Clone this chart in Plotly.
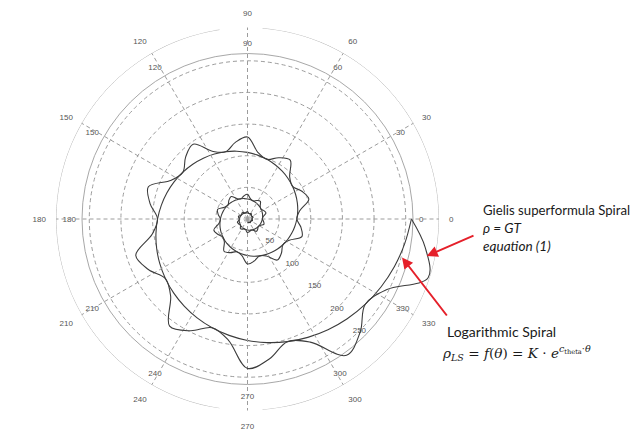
import numpy as np
import plotly.graph_objects as go

# ---------------- data (radial units of the rings) ----------------
theta_deg = [
    -90, -81, -72, -63, -54, -45, -36, -27, -18, -9,
    0, 9, 18, 27, 36, 45, 54, 63, 72, 81, 90, 99, 108, 117, 126, 135, 144, 153, 162, 171,
    180, 189, 198, 207, 216, 225, 234, 243, 252, 261, 270, 279, 288, 297, 306, 315, 324, 333, 342, 351,
    360, 369, 378, 387, 396, 405, 414, 423, 432, 441, 450, 459, 468, 477, 486, 495, 504, 513, 522, 531,
    540, 549, 558, 567, 576, 585, 594, 603, 612, 621, 630, 639, 648, 657, 666, 675, 684, 693, 702, 711,
    720, 729, 738, 747, 756, 765, 774, 783, 792, 801, 810, 819, 828, 837, 846, 855, 864, 873, 882, 891,
    900, 909, 918, 927, 936, 945, 954, 963, 972, 981, 990, 999, 1008, 1017, 1026, 1035, 1044, 1053, 1062, 1071,
    1080,
]

log_spiral_r = [
    5.24, 5.40, 5.56, 5.73, 5.90, 6.08, 6.27, 6.46, 6.66, 6.86,
    7.07, 7.28, 7.51, 7.73, 7.97, 8.21, 8.46, 8.72, 8.99, 9.26, 9.54, 9.83, 10.13, 10.44, 10.76, 11.09, 11.42, 11.77, 12.13, 12.50,
    12.88, 13.27, 13.68, 14.09, 14.52, 14.97, 15.42, 15.89, 16.38, 16.88, 17.39, 17.92, 18.47, 19.03, 19.61, 20.21, 20.82, 21.46, 22.11, 22.78,
    23.48, 24.19, 24.93, 25.69, 26.47, 27.28, 28.11, 28.96, 29.85, 30.76, 31.69, 32.66, 33.65, 34.68, 35.74, 36.83, 37.95, 39.10, 40.29, 41.52,
    42.79, 44.09, 45.43, 46.82, 48.24, 49.71, 51.23, 52.79, 54.40, 56.05, 57.76, 59.52, 61.34, 63.20, 65.13, 67.11, 69.16, 71.26, 73.43, 75.67,
    77.98, 80.36, 82.80, 85.33, 87.93, 90.60, 93.36, 96.21, 99.14, 102.16, 105.27, 108.48, 111.78, 115.19, 118.70, 122.32, 126.04, 129.88, 133.84, 137.91,
    142.12, 146.45, 150.91, 155.51, 160.24, 165.13, 170.16, 175.34, 180.68, 186.18, 191.86, 197.70, 203.73, 209.93, 216.33, 222.92, 229.71, 236.71, 243.92, 251.35,
    259.01,
]

gielis_r = [
    6.45, 6.10, 5.56, 5.96, 7.26, 6.87, 6.27, 6.72, 8.19, 7.75,
    7.07, 7.57, 9.24, 8.73, 7.97, 8.54, 10.41, 9.85, 8.99, 9.63, 11.73, 11.11, 10.13, 10.86, 13.23, 12.53, 11.42, 12.24, 14.92, 14.13,
    12.88, 13.80, 16.83, 15.92, 14.52, 15.57, 18.97, 17.96, 16.38, 17.56, 21.39, 20.25, 18.47, 19.79, 24.12, 22.84, 20.82, 22.32, 27.20, 25.74,
    23.48, 25.16, 30.66, 29.03, 26.47, 28.37, 34.58, 32.72, 29.85, 31.99, 38.98, 36.91, 33.65, 36.07, 43.96, 41.62, 37.95, 40.66, 49.56, 46.92,
    42.79, 45.85, 55.88, 52.91, 48.24, 51.70, 63.01, 59.65, 54.40, 58.29, 71.04, 67.26, 61.34, 65.73, 80.11, 75.83, 69.16, 74.11, 90.32, 85.51,
    77.98, 83.57, 101.84, 96.42, 87.93, 94.22, 114.83, 108.72, 99.14, 106.25, 129.48, 122.58, 111.78, 119.80, 146.00, 138.22, 126.04, 135.08, 164.62, 155.84,
    142.12, 152.31, 185.62, 175.73, 160.24, 171.74, 209.30, 198.13, 180.68, 193.63, 235.99, 223.40, 203.73, 218.33, 266.09, 251.90, 229.71, 246.18, 300.02, 284.03,
    259.01,
]

angular_ticks = [0, 30, 60, 90, 120, 150, 180, 210, 240, 270, 300, 330]
angular_labels = ["0", "30", "60", "90", "120", "150", "180", "210", "240", "270", "300", "330"]
radial_ticks = [50, 100, 150, 200, 250]
radial_labels = ["50", "100", "150", "200", "250"]
radial_label_angle = -45

inner_rmax = 261.5
outer_rmax = 302.5
outer_frame_arcs = [(98.4, 261.6), (274.5, 445.5)]  # outer circle, broken near 90 and 270

# ---------------- figure ----------------
# the page body has an 8px margin, so the figure is laid out 8px smaller and
# every reference position (page pixels) is shifted by that margin
PAGE_MARGIN = 8
W, H = 640 - PAGE_MARGIN, 441 - PAGE_MARGIN
cx, cy = 247.5 - PAGE_MARGIN, 219.0 - PAGE_MARGIN   # centre, px from top-left of the figure
r_in, r_out = 165.5, 191.5                          # px radii of the two frames


def dom(r):
    return dict(x=[(cx - r) / W, (cx + r) / W],
                y=[(H - cy - r) / H, (H - cy + r) / H])


def px(x, y):
    """reference page pixel -> paper coordinates"""
    return (x - PAGE_MARGIN) / W, 1 - (y - PAGE_MARGIN) / H


frame_theta, frame_r = [], []
for a0, a1 in outer_frame_arcs:
    seg = np.linspace(a0, a1, 240).tolist()
    frame_theta += seg + [None]
    frame_r += [outer_rmax] * len(seg) + [None]

tickfont = dict(family="Liberation Sans", size=8, color="#555555")
grid = dict(gridcolor="#9c9c9c", griddash="4px,3px", gridwidth=1)
curve = dict(color="#3c3c3c", width=1.1, shape="spline", smoothing=1)

fig = go.Figure()
fig.add_trace(go.Scatterpolar(
    r=log_spiral_r, theta=theta_deg, mode="lines", subplot="polar",
    line=curve, hoverinfo="skip", showlegend=False))
fig.add_trace(go.Scatterpolar(
    r=radial_ticks, theta=[radial_label_angle] * len(radial_ticks), text=radial_labels,
    mode="text", textfont=tickfont, textposition="middle center", subplot="polar",
    hoverinfo="skip", showlegend=False))
fig.add_trace(go.Scatterpolar(
    r=frame_r, theta=frame_theta, mode="lines", subplot="polar2",
    line=dict(color="#b4b4b4", width=1), connectgaps=False,
    hoverinfo="skip", showlegend=False))
fig.add_trace(go.Scatterpolar(
    r=gielis_r, theta=theta_deg, mode="lines", subplot="polar2",
    line=curve, hoverinfo="skip", showlegend=False))

fig.update_layout(
    width=W, height=H,
    margin=dict(l=0, r=0, t=0, b=0),
    paper_bgcolor="white",
    showlegend=False,
    polar=dict(
        domain=dom(r_in),
        bgcolor="white",
        angularaxis=dict(
            tickmode="array", tickvals=angular_ticks, ticktext=angular_labels,
            direction="counterclockwise", rotation=0,
            showline=True, linecolor="#a8a8a8", linewidth=1,
            ticks="outside", ticklen=4, tickcolor="rgba(0,0,0,0)",
            tickfont=tickfont, showgrid=False),
        radialaxis=dict(
            range=[0, inner_rmax], tickmode="array", tickvals=radial_ticks,
            showticklabels=False, showline=False, ticks="",
            showgrid=True, **grid),
    ),
    polar2=dict(
        domain=dom(r_out),
        bgcolor="rgba(0,0,0,0)",
        angularaxis=dict(
            tickmode="array", tickvals=angular_ticks, ticktext=angular_labels,
            direction="counterclockwise", rotation=0,
            showline=False, showgrid=True, **grid,
            ticks="outside", ticklen=8, tickcolor="rgba(0,0,0,0)", tickfont=tickfont),
        radialaxis=dict(range=[0, outer_rmax], showline=False, showgrid=False,
                        showticklabels=False, ticks=""),
    ),
)

ink = "#1a1a1a"
annos = []
for (x, y, t, f) in [
    (481, 210, "Gielis superformula Spiral", dict(family="Lato", size=13.2, color=ink)),
    (481, 228, "<i>ρ = GT</i>", dict(family="Lato", size=13.6, color=ink)),
    (481, 246, "<i>equation (1)</i>", dict(family="Lato", size=13.6, color=ink)),
    (445, 331, "Logarithmic Spiral", dict(family="Lato", size=14, color=ink)),
    (440, 353, "<i>ρ</i><sub><i>LS</i></sub> = <i>f</i>(<i>θ</i>) = <i>K</i> · <i>e</i><sup><i>c</i><sub>theta</sub>·<i>θ</i></sup>",
     dict(family="DejaVu Serif", size=13.6, color=ink)),
]:
    X, Y = px(x, y)
    annos.append(dict(x=X, y=Y, xref="paper", yref="paper", text=t, showarrow=False,
                      xanchor="left", yanchor="middle", font=f))

for (hx, hy, tx, ty) in [(426.7, 256.0, 475.0, 235.0), (402.0, 257.5, 448.0, 317.0)]:
    X, Y = px(hx, hy)
    annos.append(dict(x=X, y=Y, xref="paper", yref="paper", text="", showarrow=True,
                      ax=tx - hx, ay=ty - hy, arrowhead=2, arrowsize=1.1, arrowwidth=2,
                      arrowcolor="#e5202a"))

fig.update_layout(annotations=annos)
fig.write_html("out.html")
